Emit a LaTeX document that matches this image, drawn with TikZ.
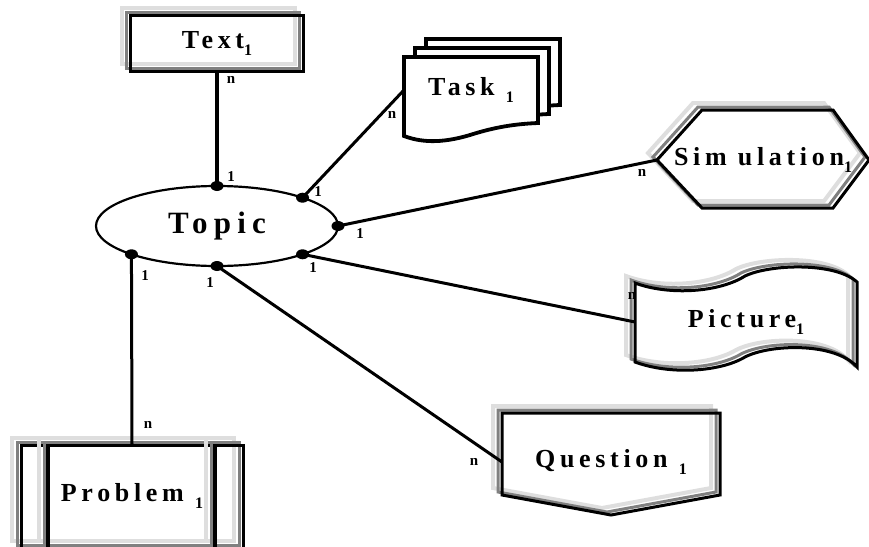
\documentclass[tikz,border=0pt]{standalone}
\usepackage{fontspec}
\setmainfont{Liberation Serif}
\newfontfamily\spacedfont[LetterSpace=18]{Liberation Serif}
\newfontfamily\topicfont[LetterSpace=20]{Liberation Serif}
\usetikzlibrary{shapes.geometric,positioning}
\newcommand\lowone{\raisebox{-7pt}{\fontsize{16}{16}\selectfont\bfseries 1}}

\begin{document}
\begin{tikzpicture}[x=1pt,y=-1pt,
    entity/.style={inner sep=0pt,outer sep=0pt,font=\spacedfont\bfseries\fontsize{26}{30}\selectfont},
    card/.style={inner sep=0pt,font=\bfseries\fontsize{15}{16}\selectfont},
    link/.style={line width=3pt},
    shadowed/.style={preaction={draw=black!13,line width=4pt,transform canvas={shift={(-9,-7)}}},
                     preaction={draw=black!50,line width=3pt,transform canvas={shift={(-4,-3)}}},
                     draw,line width=3pt},
    page/.style={draw,fill=white,line width=3.8pt}]
  \useasboundingbox (0,0) rectangle (869,546);

  \node[ellipse,draw,line width=2.2pt,minimum width=242pt,minimum height=80pt,inner sep=0pt,outer sep=0pt,
        font=\topicfont\bfseries\fontsize{31}{34}\selectfont] (topic) at (217,226) {Topic};

  % entity boxes
  \node[entity,shadowed,minimum width=173pt,minimum height=56pt] (text1) at (217,43) {Text\lowone};

  \foreach \dx/\dy in {22/-18,11/-9,0/0}
    \draw[page,shift={(\dx,\dy)}] (404,57) -- (538,57) -- (538,123)
      .. controls (515,124) and (495,127) .. (470,135)
      .. controls (440,144) and (420,142) .. (404,136) -- cycle;
  \node[entity,minimum width=134pt,minimum height=64pt] (task1) at (471,90) {Task \lowone};

  \draw[shadowed] (657,160) -- (702,110) -- (833,110) -- (869,160) -- (833,208) -- (702,208) -- cycle;
  \node[entity,minimum width=212pt,minimum height=98pt] (sim1) at (763,160) {Sim ulation\lowone};

  \draw[shadowed] (635,283) .. controls (670,296) and (720,292) .. (745,276)
    .. controls (770,264) and (835,262) .. (857,282) -- (857,367)
    .. controls (835,342) and (770,344) .. (745,357)
    .. controls (720,372) and (670,375) .. (635,362) -- cycle;
  \node[entity,minimum width=222pt,minimum height=70pt] (pict1) at (746,322) {Picture\lowone};

  \draw[shadowed] (502,413) -- (720,413) -- (720,495) -- (611,515) -- (502,495) -- cycle;
  \node[entity,minimum width=218pt,minimum height=82pt] (quest1) at (611,462) {Question \lowone};

  \draw[shadowed] (21,445) rectangle (243,548);
  \draw[shadowed,line width=4.5pt] (48,445) -- (48,548) (215,445) -- (215,548);
  \node[entity,minimum width=222pt,minimum height=103pt] (prob1) at (132,496) {Problem \lowone};

  % relations
  \draw[link,line width=4.5pt] (topic.north) -- (text1.south);
  \path[link]
    (topic.north east) edge (task1.west)
    (topic.east)       edge (sim1.west)
    (topic.south east) edge (pict1.west)
    (topic.south)      edge (quest1.west)
    (topic.south west) edge (prob1.north);

  \foreach \a in {north,north east,east,south east,south,south west}
    \fill (topic.\a) ellipse (6.5pt and 5pt);

  % cardinalities
  \foreach \x/\y/\t [count=\i] in {231/177/1,231/80/n,318/192/1,392/115/n,360/234/1,642/173/n,
                                   313/268/1,632/296/n,210/283/1,474/462/n,145/276/1,148/425/n}
    \node[card] (card\i) at (\x,\y) {\t};
\end{tikzpicture}
\end{document}
